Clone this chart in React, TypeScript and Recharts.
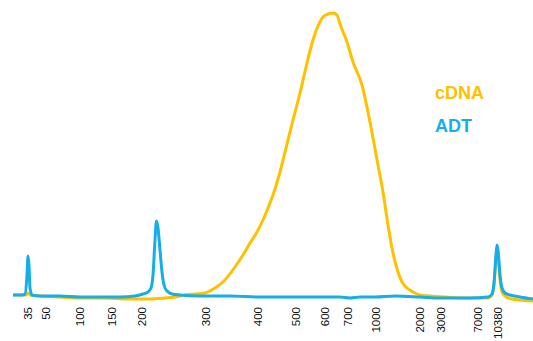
import { LineChart, Line, XAxis, YAxis } from "recharts";

// migration position (arbitrary units) and fluorescence (FU)
const CDNA_T = [0, 7, 13, 15, 17, 27, 47, 67, 87, 117, 137, 152, 162, 172, 182, 192, 202, 210, 222, 230, 237, 244, 250, 255, 260, 267, 273, 279, 287, 294, 300, 305, 310, 315, 320, 324, 327, 334, 340, 349, 355, 360, 365, 370, 375, 379, 385, 389, 394, 400, 407, 417, 432, 457, 475, 479, 481, 483, 484, 485, 487, 489, 492, 499, 507, 520];
const CDNA_FU = [5, 5, 5, 7, 5, 4, 3, 2, 2, 1, 1, 2, 3, 5, 6, 7, 12, 18, 33, 45, 57, 68, 80, 92, 105, 128, 152, 176, 207, 237, 260, 274, 283, 286, 287, 285, 276, 258, 238, 215, 188, 162, 135, 108, 75, 52, 28, 18, 12, 8, 5, 4, 3, 2, 2, 5, 15, 42, 50, 44, 20, 8, 4, 1, 0, -1];

const ADT_T = [0, 9, 12, 14, 15, 16, 17, 19, 27, 47, 67, 87, 107, 122, 130, 135, 138, 140, 142, 143.5, 145, 147, 149, 151, 154, 159, 167, 187, 217, 247, 287, 327, 337, 347, 362, 382, 407, 427, 457, 475, 479, 481, 483, 484, 485, 487, 489, 492, 497, 507, 520];
const ADT_FU = [5, 5, 6, 25, 44, 35, 12, 5, 4, 4, 3, 3, 3, 4, 6, 8, 12, 25, 60, 79, 72, 50, 28, 15, 9, 6, 5, 4, 4, 3, 3, 3, 2, 3, 3, 4, 3, 2, 2, 3, 6, 17, 45, 55, 50, 25, 12, 7, 5, 3, 1];

// ladder sizes (bp) and where they sit on the position axis
const TICK_POS = [15, 33, 67, 99, 129, 193, 245, 283, 312, 335, 363, 407, 428, 465, 485];
const TICK_LABELS = ["35", "50", "100", "150", "200", "300", "400", "500", "600", "700", "1000", "2000", "3000", "7000", "10380"];

const CDNA_COLOR = "#FFC000";
const ADT_COLOR = "#14AEE8";

const cdnaData = CDNA_T.map((t, i) => ({ t, fu: CDNA_FU[i] }));
const adtData = ADT_T.map((t, i) => ({ t, fu: ADT_FU[i] }));

function SizeTick({ x, y, payload }: any) {
  const idx = TICK_POS.indexOf(payload.value);
  return (
    <g transform={`translate(${x},${y})`}>
      <text
        transform="rotate(-90)"
        x={3}
        dy="0.35em"
        textAnchor="end"
        fill="#111"
        fontSize={11.5}
        fontFamily="'Liberation Sans', Arial, sans-serif"
      >
        {TICK_LABELS[idx]}
      </text>
    </g>
  );
}

export default function App() {
  return (
    <div style={{ position: "absolute", left: 0, top: 0, width: 533, height: 341, background: "#fff" }}>
      <LineChart width={533} height={341} margin={{ top: 10, right: 0, left: 13, bottom: 0 }}>
        <XAxis
          type="number"
          dataKey="t"
          domain={[0, 520]}
          ticks={TICK_POS}
          interval={0}
          tick={<SizeTick />}
          tickLine={false}
          tickSize={0}
          tickMargin={0}
          axisLine={false}
          height={31}
        />
        <YAxis hide domain={[-10, 290]} allowDataOverflow />
        <Line
          data={cdnaData}
          dataKey="fu"
          type="monotone"
          stroke={CDNA_COLOR}
          strokeWidth={3}
          dot={false}
          isAnimationActive={false}
        />
        <Line
          data={adtData}
          dataKey="fu"
          type="monotone"
          stroke={ADT_COLOR}
          strokeWidth={3}
          dot={false}
          isAnimationActive={false}
        />
      </LineChart>
      <div
        style={{
          position: "absolute",
          left: 435,
          top: 77,
          fontFamily: "'Liberation Sans', Arial, sans-serif",
          fontWeight: "bold",
          fontSize: 18,
        }}
      >
        <div style={{ color: CDNA_COLOR, height: 33, lineHeight: "33px" }}>cDNA</div>
        <div style={{ color: ADT_COLOR, height: 33, lineHeight: "33px" }}>ADT</div>
      </div>
    </div>
  );
}
